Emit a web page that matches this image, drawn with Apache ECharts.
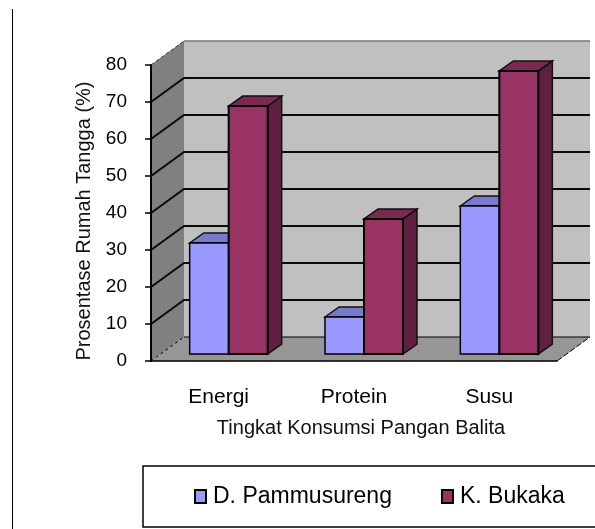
<!DOCTYPE html>
<html>
<head>
<meta charset="utf-8">
<style>
  html, body { margin: 0; padding: 0; background: #fff; overflow: hidden; }
  #chart { width: 595px; height: 529px; }
</style>
<script src="https://cdn.jsdelivr.net/npm/echarts@6/dist/echarts.min.js"></script>
</head>
<body>
<div id="chart"></div>
<script>
var categories = ["Energi", "Protein", "Susu"];
var pammusureng = [30, 10, 40];
var bukaka = [67, 36.5, 76.5];
var gridValues = [10, 20, 30, 40, 50, 60, 70];

// depth of the fake 3D box, in px
var DX = 33, DY = -24;
var BAR_W = 39, BAR_DX = 14, BAR_DY = -10, BAR_SHIFT_X = 10, BAR_SHIFT_Y = -7;
var FONT = "Liberation Sans";

function poly(points, fill, stroke, width) {
  return {
    type: "polygon",
    shape: { points: points },
    style: { fill: fill, stroke: stroke || null, lineWidth: width || 0 }
  };
}

function renderWalls(params, api) {
  var a = api.coord([0, 0]);
  var t = api.coord([0, 80]);
  var size = api.size([1, 0])[0];
  var x0 = a[0] - size / 2, y0 = a[1], y1 = t[1];
  var x1 = x0 + size * categories.length;
  return {
    type: "group",
    children: [
      poly([[x0 + DX, y1 + DY], [x1 + DX, y1 + DY], [x1 + DX, y0 + DY], [x0 + DX, y0 + DY]], "#c0c0c0", null, 0),
      poly([[x0, y1], [x0 + DX, y1 + DY], [x0 + DX, y0 + DY], [x0, y0]], "#808080", null, 0),
      poly([[x0, y0], [x0 + DX, y0 + DY], [x1 + DX, y0 + DY], [x1, y0]], "#969696", null, 0),
      { type: "line", shape: { x1: x0 + DX, y1: y1 + DY, x2: x1 + DX, y2: y1 + DY }, style: { stroke: "#777", lineWidth: 1.5 } },
      { type: "line", shape: { x1: x0, y1: y1, x2: x0 + DX, y2: y1 + DY }, style: { stroke: "#333", lineWidth: 1, lineDash: [4, 2] } },
      { type: "line", shape: { x1: x0, y1: y0, x2: x0 + DX, y2: y0 + DY }, style: { stroke: "#000", lineWidth: 1, lineDash: [3, 3] } },
      { type: "line", shape: { x1: x0 + DX, y1: y0 + DY, x2: x1 + DX, y2: y0 + DY }, style: { stroke: "#000", lineWidth: 1 } },
      { type: "line", shape: { x1: x1, y1: y0, x2: x1 + DX, y2: y0 + DY }, style: { stroke: "#000", lineWidth: 1, lineDash: [6, 2] } }
    ]
  };
}

function renderGridLine(params, api) {
  var p = api.coord([0, api.value(0)]);
  var size = api.size([1, 0])[0];
  var x0 = p[0] - size / 2, y = p[1];
  var x1 = x0 + size * categories.length;
  return {
    type: "polyline",
    shape: { points: [[x0, y], [x0 + DX, y + DY], [x1 + DX, y + DY]] },
    style: { fill: null, stroke: "#0a0a0a", lineWidth: 2 }
  };
}

function barRenderer(side, front, top, right) {
  return function (params, api) {
    var i = api.value(0);
    var c = api.coord([i, api.value(1)]);
    var b = api.coord([i, 0]);
    var xa = c[0] + BAR_SHIFT_X + (side < 0 ? -BAR_W : 0);
    var xb = xa + BAR_W;
    var yt = c[1] + BAR_SHIFT_Y;
    var yb = b[1] + BAR_SHIFT_Y;
    return {
      type: "group",
      children: [
        poly([[xb, yt], [xb + BAR_DX, yt + BAR_DY], [xb + BAR_DX, yb + BAR_DY], [xb, yb]], right, "#111", 1.5),
        poly([[xa, yt], [xa + BAR_DX, yt + BAR_DY], [xb + BAR_DX, yt + BAR_DY], [xb, yt]], top, "#111", 1.5),
        poly([[xa, yt], [xb, yt], [xb, yb], [xa, yb]], front, "#000", side < 0 ? 1.5 : 2)
      ]
    };
  };
}

var chart = echarts.init(document.getElementById("chart"), null, { renderer: "canvas" });

chart.setOption({
  animation: false,
  textStyle: { fontFamily: FONT },
  grid: { left: 151, top: 65, width: 406, height: 296, containLabel: false },
  xAxis: {
    type: "category",
    data: categories,
    name: "Tingkat Konsumsi Pangan Balita",
    nameLocation: "middle",
    nameGap: 57,
    nameTextStyle: { color: "#111", fontSize: 20, fontFamily: FONT, padding: [0, 0, 0, 14] },
    axisLine: { onZero: false, lineStyle: { color: "#000", width: 1.5 } },
    axisTick: { length: 7, lineStyle: { color: "#000", width: 1.5 } },
    axisLabel: { color: "#000", fontSize: 21, margin: 26, fontFamily: FONT },
    splitLine: { show: false },
    z: 5
  },
  yAxis: {
    type: "value",
    min: 0,
    max: 80,
    interval: 10,
    name: "Prosentase Rumah Tangga (%)",
    nameLocation: "middle",
    nameGap: 55,
    nameRotate: 90,
    nameTextStyle: { color: "#111", fontSize: 20, fontFamily: FONT, padding: [0, 16, 0, 0] },
    axisLine: { show: true, lineStyle: { color: "#000", width: 2 } },
    axisTick: { show: true, length: 6, lineStyle: { color: "#000", width: 1.5 } },
    axisLabel: { color: "#000", fontSize: 19, margin: 24, fontFamily: FONT },
    splitLine: { show: false },
    z: 5
  },
  legend: {
    left: 143,
    top: 466,
    width: 520,
    orient: "horizontal",
    icon: "rect",
    padding: [19, 100, 19, 51],
    itemGap: 49,
    itemWidth: 11,
    itemHeight: 13,
    borderColor: "#000",
    borderWidth: 1.5,
    backgroundColor: "#fff",
    selectedMode: false,
    data: ["D. Pammusureng", "K. Bukaka"],
    textStyle: { color: "#000", fontSize: 23, fontFamily: FONT, padding: [0, 0, 0, 2] }
  },
  series: [
    { type: "custom", name: "walls", z: 1, silent: true, renderItem: renderWalls, data: [[0]], encode: { y: 0 } },
    { type: "custom", name: "grid", z: 2, silent: true, renderItem: renderGridLine, data: gridValues.map(function (v) { return [v]; }), encode: { y: 0 } },
    {
      type: "custom",
      name: "D. Pammusureng",
      z: 3,
      renderItem: barRenderer(-1, "#9999ff", "#7a7acc", "#5c5c99"),
      itemStyle: { color: "#9999ff", borderColor: "#000", borderWidth: 2 },
      data: pammusureng.map(function (v, i) { return [i, v]; }),
      encode: { x: 0, y: 1 }
    },
    {
      type: "custom",
      name: "K. Bukaka",
      z: 4,
      renderItem: barRenderer(1, "#993366", "#7a2952", "#5f2042"),
      itemStyle: { color: "#993366", borderColor: "#000", borderWidth: 2 },
      data: bukaka.map(function (v, i) { return [i, v]; }),
      encode: { x: 0, y: 1 }
    }
  ],
  graphic: [
    { type: "line", shape: { x1: 12.5, y1: 9, x2: 12.5, y2: 529 }, style: { stroke: "#000", lineWidth: 1 } }
  ]
});
</script>
</body>
</html>
